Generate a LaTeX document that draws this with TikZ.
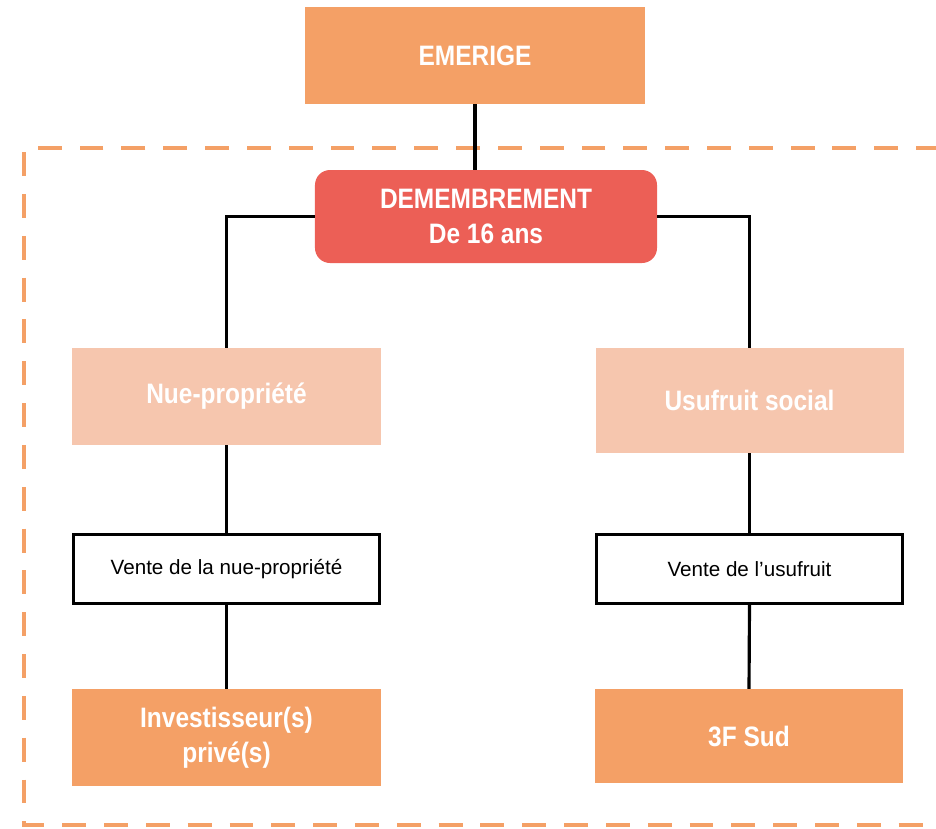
\documentclass[tikz,border=0pt]{standalone}
\usepackage{fontspec}
\setmainfont{Liberation Sans}
\newfontfamily\narrowfont[FakeStretch=0.87]{Liberation Sans}
\usetikzlibrary{positioning}

\definecolor{emorange}{HTML}{F4A066}
\definecolor{demred}{HTML}{EC5F56}
\definecolor{peach}{HTML}{F6C6AE}

\begin{document}
\begin{tikzpicture}[
		x=0.03cm, y=-0.03cm,
		box/.style={rectangle, inner sep=0pt, align=center, text=white,
			font=\narrowfont\bfseries\fontsize{24}{30}\selectfont},
		orangebox/.style={box, fill=emorange},
		peachbox/.style={box, fill=peach},
		redbox/.style={box, fill=demred, rounded corners=0.45cm},
		salebox/.style={rectangle, draw=black, line width=2.8pt, fill=white, inner sep=0pt,
			minimum width=9.18cm, minimum height=2.07cm, font=\fontsize{17.6}{20}\selectfont},
		link/.style={draw=black, line width=2.7pt},
		frame/.style={draw=emorange, line width=3.4pt, dash pattern=on 20.4pt off 15.3pt}
		]
		\useasboundingbox (0,0) rectangle (936,828);
		
		% Dashed frame (open on the right, runs past the edge)
		\draw[frame] (940,148) -- (24,148) -- (24,825) -- (940,825);
		
		% Nodes
		\node[orangebox, minimum width=10.2cm, minimum height=2.91cm] (emerige) at (475,55.5) {EMERIGE};
		\node[redbox, minimum width=10.26cm, minimum height=2.79cm] (dem) at (486,216.5) {DEMEMBREMENT\\De 16 ans};
		
		\node[peachbox, minimum width=9.27cm, minimum height=2.91cm] (nue) at (226.5,396.5) {Nue-propriété};
		\node[peachbox, minimum width=9.24cm, minimum height=3.15cm] (usu) at (749.5,400.5) {Usufruit social};
		
		\node[salebox] (vnue) at (226.5,569) {Vente de la nue-propriété};
		\node[salebox] (vusu) at (749.5,569) {Vente de l’usufruit};
		
		\node[orangebox, minimum width=9.27cm, minimum height=2.91cm] (inv) at (226.5,737.5) {Investisseur(s)\\privé(s)};
		\node[orangebox, minimum width=9.24cm, minimum height=2.82cm] (sud) at (749,736) {3F Sud};
		
		% Links
		\draw[link] (emerige.south) -- (emerige.south |- dem.north);
		\draw[link] (dem.west) -| (nue.north);
		\draw[link] (dem.east) -| (usu.north);
		\draw[link] (nue.south) -- (vnue.north);
		\draw[link] (usu.south) -- (vusu.north);
		\draw[link] (vnue.south) -- (inv.north);
		\draw[link] (vusu.south) -- (sud.north);
		
	\end{tikzpicture}
\end{document}
